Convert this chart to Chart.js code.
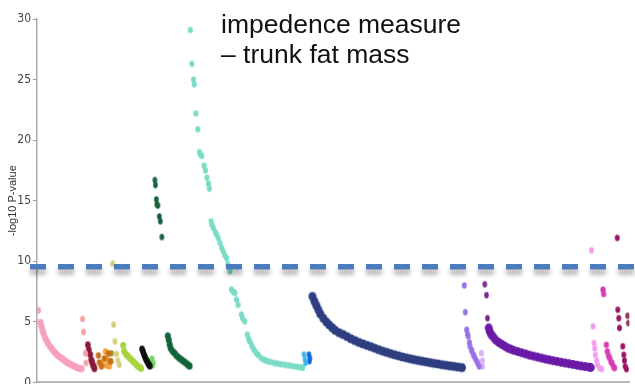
<!DOCTYPE html>
<html>
<head>
<meta charset="utf-8">
<script src="https://cdn.jsdelivr.net/npm/chart.js@4"></script>
<style>
  html, body { margin: 0; background: #fff; overflow: hidden; }
  /* etwas hoeher als das Fenster: die "0" wird unten angeschnitten wie im Original */
  #wrap { width: 635px; height: 388px; position: relative; }
</style>
</head>
<body>
<div id="wrap"><canvas id="manhattan"></canvas></div>
<script>
// Werte: [Position, -log10 P]
var pinkPts = [[1,5.95],[3.5,4.96],[4.5,4.63],[5.5,4.3],[6.5,4.05],[8,3.72],[9.5,3.47],[11,3.22],[13,2.98],[15,2.77],[17,2.56],[19,2.4],[21,2.23],[23,2.1],[25,1.98],[27,1.86],[29,1.74],[31,1.61],[33,1.53],[35,1.45],[37,1.36],[39,1.28],[41,1.2],[43,1.16],[45,1.12]];
var salmonPts = [[46,5.23],[47,4.16],[49,2.4],[49.5,1.6]];
var maroonPts = [[51.3,3.1],[52.3,2.7],[53.7,2.3],[54.7,1.87],[55.5,1.7],[56.3,1.46],[57.3,1.3],[58,1.13]];
var darkOrangePts = [[62,2.23],[63,1.65],[65,1.32],[68,1.98],[72,2.4],[74,1.74]];
var orangePts = [[66,1.57],[69,2.56],[70,1.4],[71,1.9],[73,1.32]];
var olivePts = [[75,2.4],[74.5,1.74]];
var khakiPts = [[76.3,9.8],[77.3,4.77],[78.7,3.39],[80.3,2.34],[81.7,1.8],[83,1.46]];
var yellowGreenPts = [[87,3.06],[88,2.56],[90,2.31],[92,2.15],[94,1.98],[96,1.82],[98,1.65],[100,1.49],[102,1.32],[104,1.24],[105,1.16]];
var blackPts = [[106,2.75],[107,2.55],[108,2.3],[109,2.1],[110,1.9],[111,1.75],[112,1.6],[113,1.45],[114,1.35]];
var lightGreenPts = [[116,1.95],[117,1.6],[116.5,1.4]];
var darkGreenTopPts = [[119,16.7],[119.5,16.3],[120.5,15.1],[121,14.7],[122,14.6],[123.5,13.7],[124.5,13.3],[126,12.0]];
var darkGreenPts = [[132,3.85],[133,3.5],[134,3.1],[135,2.8],[137,2.56],[139,2.4],[141,2.2],[143,2.05],[145,1.92],[147,1.8],[149,1.68],[151,1.55],[153,1.42],[154,1.34]];
var tealPts = [[154.7,29.1],[156.3,26.3],[158,25.0],[158.7,24.6],[160.3,22.2],[162.3,20.9],[164,19.0],[165,18.8],[166.3,18.7],[168.7,17.9],[170,17.5],[171.5,16.9],[173,16.4],[174,16.0],[175.7,13.3],[176.5,13.0],[178,12.75],[180,12.4],[181.3,12.2],[183,11.9],[184.7,11.5],[186.5,11.1],[188,10.8],[189.5,10.5],[191.3,10.27],[192.5,9.8],[194.7,9.17],[196.3,7.66],[198,7.5],[199.7,7.38],[201.3,6.83],[203,6.4],[206.3,5.6],[207.5,5.3],[209.7,5.04],[212.3,3.94],[213.5,3.6],[214.7,3.39],[216.5,3.1],[218,2.83],[219.5,2.65],[221.3,2.42],[223.5,2.25],[226.3,2.0],[229,1.88],[231,1.8],[233,1.74],[236,1.68],[239.7,1.6],[243,1.55],[246,1.5],[249.7,1.46],[253,1.42],[256,1.38],[259.7,1.32],[263,1.28],[266,1.24],[268,1.2]];
var lightBluePts = [[269.5,2.3],[270.5,1.9],[271,1.6]];
var bluePts = [[274.5,2.3],[275.5,2.0],[275,1.75]];
var navyPts = [[278,7.1],[280,6.7],[282,6.35],[284,6.0],[286,5.65],[289,5.3],[292,5.0],[295,4.75],[298,4.52],[301,4.3],[305,4.1],[309,3.95],[313,3.78],[317,3.6],[321,3.45],[325,3.3],[329,3.18],[333,3.06],[337,2.95],[341,2.82],[345,2.7],[349,2.58],[353,2.48],[357,2.38],[361,2.28],[365,2.19],[369,2.1],[373,2.02],[377,1.95],[381,1.88],[385,1.81],[389,1.75],[393,1.69],[397,1.63],[401,1.57],[405,1.52],[409,1.46],[413,1.41],[417,1.36],[421,1.32],[425,1.27],[429,1.22]];
var lavenderPts = [[431.3,8.0],[432.3,5.8],[433.7,4.35],[434.5,4.0],[435.3,3.8],[436.5,3.3],[437,2.98],[438.5,2.7],[439,2.56],[440.5,2.3],[441.3,2.15],[442.5,1.95],[444,1.74],[445,1.55],[446.3,1.32]];
var lightLavenderPts = [[448.7,2.42],[449.7,1.8],[449.7,1.32]];
var purpleTopPts = [[452,8.1],[453.7,7.2],[454.7,5.3]];
var purplePts = [[456,4.5],[457,4.2],[458.5,3.95],[460.5,3.75],[463,3.5],[466,3.3],[469,3.15],[472,3.0],[475,2.85],[478,2.75],[481,2.65],[485,2.55],[489,2.45],[493,2.35],[497,2.25],[501,2.17],[505,2.09],[509,2.01],[513,1.93],[517,1.86],[521,1.79],[525,1.73],[529,1.66],[533,1.6],[537,1.54],[541,1.48],[545,1.42],[549,1.36],[553,1.31],[557,1.26],[559,1.23]];
var violetPts = [[559.7,10.9],[561.3,4.63],[562.3,3.25],[563,2.8],[563.7,2.28],[565,1.8],[565.7,1.46],[568,1.18],[570,1.1]];
var magentaPts = [[571.3,7.66],[572,7.3],[574.7,3.1],[575.7,2.56],[577,2.2],[578,2.0],[579.5,1.7],[580.3,1.6],[582,1.3],[583,1.18]];
var darkMagentaPts = [[585.7,11.93],[586.3,6.0],[587.3,5.3],[588,4.5],[591.3,2.98],[592.3,2.28],[593,1.8],[593.7,1.32],[595,1.1]];
var dustyPts = [[596.3,5.5],[597,4.9]];

var yTicks = [0, 5, 10, 15, 20, 25, 30];
var schwelle = 9.55;
var titelZeilen = ["impedence measure", "– trunk fat mass"];

// kleine Ellipsen als Punktsymbol (Bild ist vertikal gestreckt)
function punkt(farbe, rx, ry) {
  var c = document.createElement("canvas");
  c.width = Math.ceil(rx * 2 + 2);
  c.height = Math.ceil(ry * 2 + 2);
  var g = c.getContext("2d");
  g.fillStyle = farbe;
  g.beginPath();
  g.ellipse(c.width / 2, c.height / 2, rx, ry, 0, 0, Math.PI * 2);
  g.fill();
  return c;
}

function serie(pts, farbe, rx, ry) {
  return {
    data: pts.map(function (p) { return { x: p[0], y: p[1] }; }),
    pointStyle: punkt(farbe, rx, ry),
    pointRadius: ry,
    backgroundColor: farbe,
    showLine: false,
  };
}

var schwellenLinie = {
  id: "schwellenLinie",
  afterDatasetsDraw: function (chart) {
    var ctx = chart.ctx;
    var y = chart.scales.y.getPixelForValue(schwelle);
    ctx.save();
    ctx.setLineDash([16, 12]);
    ctx.lineWidth = 5.5;
    ctx.strokeStyle = "#4b7cbc";
    ctx.shadowColor = "rgba(0,0,0,0.32)";
    ctx.shadowBlur = 5;
    ctx.shadowOffsetY = 5;
    ctx.beginPath();
    ctx.moveTo(chart.chartArea.left - 7, y);
    ctx.lineTo(chart.width, y);
    ctx.stroke();
    ctx.restore();
  },
  afterDraw: function (chart) {
    var ctx = chart.ctx;
    ctx.save();
    ctx.font = '26.5px "Liberation Sans", Arial, sans-serif';
    ctx.fillStyle = "#111";
    ctx.textBaseline = "alphabetic";
    ctx.fillText(titelZeilen[0], 221, 33);
    ctx.fillText(titelZeilen[1], 221, 63);
    ctx.restore();
  },
};

var ctx = document.getElementById("manhattan").getContext("2d");
window.chartManhattan = new Chart(ctx, {
  type: "scatter",
  data: {
    datasets: [
      serie(pinkPts, "#f5a0bd", 3, 3.6),
      serie(salmonPts, "#f4a0a6", 2.4, 3.2),
      serie(maroonPts, "#8b1a3a", 2.8, 3.4),
      serie(darkOrangePts, "#c96e12", 2.6, 3.3),
      serie(orangePts, "#f5a23c", 2.6, 3.3),
      serie(olivePts, "#a09a2c", 2.6, 3.3),
      serie(khakiPts, "#d5cf7c", 2.4, 3.2),
      serie(yellowGreenPts, "#a8d43e", 3, 3.5),
      serie(blackPts, "#111111", 2.8, 3.4),
      serie(lightGreenPts, "#70dc5a", 2.6, 3.2),
      serie(darkGreenTopPts, "#17603e", 2.3, 3.2),
      serie(darkGreenPts, "#14643a", 3, 3.6),
      serie(tealPts, "#7adcc5", 2.5, 3.3),
      serie(lightBluePts, "#3cb6f0", 2.2, 3.2),
      serie(bluePts, "#1466d2", 2.2, 3.2),
      serie(navyPts, "#2e3e80", 4, 4.6),
      serie(lavenderPts, "#9a70e6", 2.4, 3.2),
      serie(lightLavenderPts, "#d4b0f6", 2.4, 3.2),
      serie(purpleTopPts, "#7a2a92", 2.3, 3.2),
      serie(purplePts, "#6a1aa6", 4, 4.4),
      serie(violetPts, "#f29cf0", 2.4, 3.2),
      serie(magentaPts, "#d83cb4", 2.6, 3.3),
      serie(darkMagentaPts, "#9a1466", 2.4, 3.3),
      serie(dustyPts, "#8c3c5a", 2.4, 3.3),
    ],
  },
  options: {
    responsive: true,
    maintainAspectRatio: false,
    animation: false,
    events: [],
    layout: {
      padding: { top: 19, right: 0, bottom: 0, left: 0 },
    },
    plugins: {
      legend: { display: false },
      tooltip: { enabled: false },
    },
    scales: {
      x: {
        type: "linear",
        min: 0,
        max: 598,
        ticks: { display: false },
        grid: { display: false },
        border: { display: true, color: "#b8b8b8", width: 2 },
        afterFit: function (scale) { scale.height = 0; },
      },
      y: {
        min: 0,
        max: 30,
        afterBuildTicks: function (scale) {
          scale.ticks = yTicks.map(function (v) { return { value: v }; });
        },
        ticks: {
          padding: 2,
          color: "#444",
          font: { family: '"Liberation Sans Narrow", "DejaVu Sans Condensed", sans-serif', size: 12 },
        },
        grid: { display: true, drawOnChartArea: false, drawTicks: true, tickLength: 4, color: "#999" },
        border: { display: true, color: "#aaa", width: 1.5 },
        title: {
          display: true,
          text: "-log10 P-value",
          color: "#333",
          padding: { top: 6, bottom: 0 },
          font: { family: '"Liberation Sans", Arial, sans-serif', size: 11 },
        },
        afterFit: function (scale) {
          scale.width = 37;
          scale.paddingTop = 0;
          scale.paddingBottom = 0;
        },
      },
    },
  },
  plugins: [schwellenLinie],
});
</script>
</body>
</html>
